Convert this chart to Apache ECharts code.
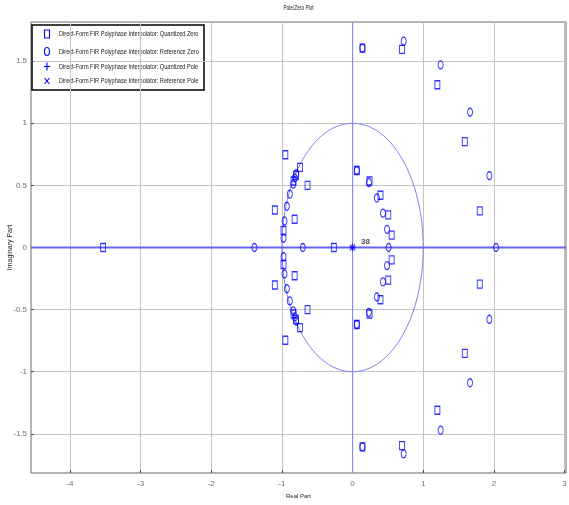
<!DOCTYPE html>
<html>
<head>
<meta charset="utf-8">
<script src="https://cdn.jsdelivr.net/npm/echarts@6/dist/echarts.min.js"></script>
<style>
  html, body { margin: 0; padding: 0; background: #ffffff; }
  #chart { width: 569px; height: 505px; }
</style>
</head>
<body>
<div id="chart"></div>
<script>
// Zeros of the quantized filter (real, imaginary)
const quantizedZeros = [
  [-3.53, 0], [-0.265, 0],
  [0.70, 1.595], [0.70, -1.595],
  [1.20, 1.31], [1.20, -1.31],
  [1.588, 0.852], [1.588, -0.852],
  [1.80, 0.295], [1.80, -0.295],
  [0.14, 1.605], [0.14, -1.605],
  [0.06, 0.62], [0.06, -0.62],
  [0.24, 0.535], [0.24, -0.535],
  [0.395, 0.42], [0.395, -0.42],
  [0.505, 0.263], [0.505, -0.263],
  [0.553, 0.10], [0.553, -0.10],
  [-0.951, 0.747], [-0.951, -0.747],
  [-0.745, 0.645], [-0.745, -0.645],
  [-0.637, 0.50], [-0.637, -0.50],
  [-1.10, 0.302], [-1.10, -0.302],
  [-0.82, 0.227], [-0.82, -0.227],
  [-0.977, 0.137], [-0.977, -0.137],
  [-0.80, 0.58], [-0.80, -0.58],
  [-0.835, 0.535], [-0.835, -0.535]
];

// Zeros of the reference (unquantized) filter
const referenceZeros = [
  [-1.388, 0], [-0.704, 0], [0.51, 0], [2.03, 0],
  [0.723, 1.661], [0.723, -1.661],
  [1.246, 1.47], [1.246, -1.47],
  [1.662, 1.089], [1.662, -1.089],
  [1.936, 0.578], [1.936, -0.578],
  [0.14, 1.605], [0.14, -1.605],
  [0.06, 0.62], [0.06, -0.62],
  [0.231, 0.522], [0.231, -0.522],
  [0.344, 0.398], [0.344, -0.398],
  [0.43, 0.277], [0.43, -0.277],
  [0.488, 0.146], [0.488, -0.146],
  [-0.798, 0.594], [-0.798, -0.594],
  [-0.817, 0.559], [-0.817, -0.559],
  [-0.84, 0.51], [-0.84, -0.51],
  [-0.888, 0.43], [-0.888, -0.43],
  [-0.93, 0.332], [-0.93, -0.332],
  [-0.963, 0.213], [-0.963, -0.213],
  [-0.977, 0.075], [-0.977, -0.075]
];

// Poles (all at the origin) and their multiplicity
const quantizedPoles = [[0, 0]];
const referencePoles = [[0, 0]];
const poleMultiplicity = 38;

// Axis ticks
const realTicks = [-4, -3, -2, -1, 0, 1, 2, 3];
const imagTicks = [-1.5, -1, -0.5, 0, 0.5, 1, 1.5];
const realRange = [-4.55, 3.02];
const imagRange = [-1.815, 1.815];
const unitRadius = 1;

const seriesNames = [
  'Direct-Form FIR Polyphase Interpolator: Quantized Zero',
  'Direct-Form FIR Polyphase Interpolator: Reference Zero',
  'Direct-Form FIR Polyphase Interpolator: Quantized Pole',
  'Direct-Form FIR Polyphase Interpolator: Reference Pole'
];

const FONT = "'Liberation Sans', Arial, sans-serif";
const BLUE = '#0000ff';
const plusPath = 'path://M5,0L5,10M0,5L10,5';
const crossPath = 'path://M0,0L10,10M10,0L0,10';
const NARROW = 0.7; // horizontal squeeze applied to the narrow-looking texts

const hollow = { color: 'rgba(0,0,0,0)', borderColor: BLUE, borderWidth: 1.1 };

const chart = echarts.init(document.getElementById('chart'), null, { renderer: 'canvas' });

const baseAxis = (range, ticks) => ({
  type: 'value',
  min: range[0],
  max: range[1],
  axisLine: { show: false, onZero: false },
  axisTick: { show: true, inside: true, length: 3, customValues: ticks, lineStyle: { color: '#4a4a4a' } },
  axisLabel: { show: true, customValues: ticks, color: '#6e6e6e', fontSize: 8, fontFamily: FONT },
  splitLine: { show: true, lineStyle: { color: '#c4c4c4', width: 1 } }
});

// Legend box drawn as a graphic group so its text can be condensed
const legendRowsY = [9, 26.5, 41.5, 56];
const legendIcons = [
  { type: 'rect', shape: { x: -2.5, y: -4, width: 5, height: 8 } },
  { type: 'ellipse', shape: { cx: 0, cy: 0, rx: 2.5, ry: 4 } },
  { type: 'polyline', shape: { points: [[0, -4], [0, 4]] }, extra: { type: 'polyline', shape: { points: [[-3, 0], [3, 0]] } } },
  { type: 'polyline', shape: { points: [[-2.5, -3], [2.5, 3]] }, extra: { type: 'polyline', shape: { points: [[2.5, -3], [-2.5, 3]] } } }
];
const legendChildren = [
  {
    type: 'rect',
    shape: { x: 0, y: 0, width: 172, height: 65 },
    style: { fill: '#ffffff', stroke: '#000000', lineWidth: 1.5 }
  }
];
seriesNames.forEach((name, i) => {
  const ic = legendIcons[i];
  const iconStyle = { fill: 'none', stroke: BLUE, lineWidth: 1.1 };
  legendChildren.push({ type: ic.type, shape: ic.shape, x: 15, y: legendRowsY[i], style: iconStyle });
  if (ic.extra) {
    legendChildren.push({ type: ic.extra.type, shape: ic.extra.shape, x: 15, y: legendRowsY[i], style: iconStyle });
  }
  legendChildren.push({
    type: 'text',
    x: 27,
    y: legendRowsY[i],
    scaleX: NARROW,
    style: { text: name, fontSize: 8, fontFamily: FONT, fill: '#222222', align: 'left', verticalAlign: 'middle' }
  });
});

chart.setOption({
  animation: false,
  backgroundColor: '#ffffff',
  graphic: [
    {
      type: 'text',
      x: 298.5,
      y: 8,
      scaleX: 0.68,
      z: 100,
      style: { text: 'Pole/Zero Plot', fontSize: 7, fontFamily: FONT, fill: '#222222', align: 'center', verticalAlign: 'middle' }
    },
    {
      type: 'group',
      x: 32,
      y: 25,
      z: 100,
      children: legendChildren
    }
  ],
  grid: {
    left: 31, right: 3, top: 22, bottom: 32,
    containLabel: false, outerBoundsMode: 'none',
    show: true, borderColor: '#6a6a6a', borderWidth: 1, backgroundColor: '#ffffff'
  },
  xAxis: Object.assign(baseAxis(realRange, realTicks), {
    name: 'Real Part',
    nameLocation: 'middle',
    nameGap: 20,
    nameMoveOverlap: false,
    nameTextStyle: { fontSize: 6, color: '#222222', fontFamily: FONT },
    axisLabel: { show: true, customValues: realTicks, color: '#6e6e6e', fontSize: 8, fontFamily: FONT, margin: 7 }
  }),
  yAxis: Object.assign(baseAxis(imagRange, imagTicks), {
    name: 'Imaginary Part',
    nameLocation: 'middle',
    nameGap: 17,
    nameMoveOverlap: false,
    nameRotate: 90,
    nameTextStyle: { fontSize: 7, color: '#222222', fontFamily: FONT },
    axisLabel: { show: true, customValues: imagTicks, color: '#6e6e6e', fontSize: 8, fontFamily: FONT, margin: 4 }
  }),
  series: [
    {
      // unit circle and the real / imaginary axes through the origin
      type: 'custom',
      name: 'unit circle',
      silent: true,
      z: 2,
      renderItem: (params, api) => {
        const c = api.coord([0, 0]);
        const s = api.size([unitRadius, unitRadius]);
        const left = api.coord([realRange[0], 0]);
        const right = api.coord([realRange[1], 0]);
        const top = api.coord([0, imagRange[1]]);
        const bottom = api.coord([0, imagRange[0]]);
        return {
          type: 'group',
          children: [
            {
              type: 'ellipse',
              shape: { cx: c[0], cy: c[1], rx: s[0], ry: s[1] },
              style: { fill: 'none', stroke: '#8080f4', lineWidth: 1 }
            },
            {
              type: 'line',
              shape: { x1: top[0], y1: top[1], x2: bottom[0], y2: bottom[1] },
              style: { stroke: '#8a8af4', lineWidth: 1.2 }
            },
            {
              type: 'line',
              shape: { x1: left[0], y1: left[1], x2: right[0], y2: right[1] },
              style: { stroke: '#6464f4', lineWidth: 1.8 }
            }
          ]
        };
      },
      data: [[0, 0]]
    },
    {
      name: seriesNames[0],
      type: 'scatter',
      symbol: 'rect',
      symbolSize: [5, 8],
      itemStyle: hollow,
      z: 3,
      data: quantizedZeros
    },
    {
      name: seriesNames[1],
      type: 'scatter',
      symbol: 'circle',
      symbolSize: [5, 8],
      itemStyle: hollow,
      z: 3,
      data: referenceZeros
    },
    {
      name: seriesNames[2],
      type: 'scatter',
      symbol: plusPath,
      symbolSize: [6, 8],
      itemStyle: hollow,
      z: 4,
      data: quantizedPoles,
      label: {
        show: true,
        position: 'right',
        distance: 5,
        offset: [0, -6],
        formatter: () => String(poleMultiplicity),
        fontSize: 8,
        fontWeight: 'bold',
        color: '#222222',
        fontFamily: FONT
      }
    },
    {
      name: seriesNames[3],
      type: 'scatter',
      symbol: crossPath,
      symbolSize: [5, 6],
      itemStyle: hollow,
      z: 4,
      data: referencePoles
    }
  ]
});
</script>
</body>
</html>
